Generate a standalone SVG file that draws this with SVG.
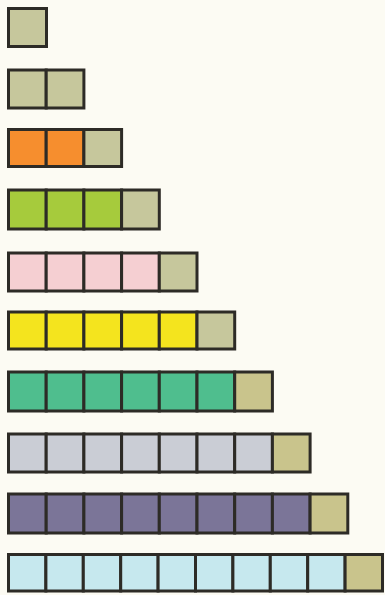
<svg xmlns="http://www.w3.org/2000/svg" width="385" height="595" viewBox="0 0 385 595">
<style>
.c{stroke:#2d2b26;stroke-width:3}
.k{fill:#c6c79c}
.k2{fill:#c9c48c}
.o{fill:#f68e2e}
.g{fill:#a6cb3c}
.p{fill:#f5cfd2}
.y{fill:#f4e41e}
.t{fill:#4fbe8e}
.s{fill:#cacdd5}
.v{fill:#7b7598}
.b{fill:#c6e8ee}
</style>
<rect width="385" height="595" fill="#fcfbf3"/>
<g id="row1">
<rect class="c k" x="8.5" y="8.5" width="38" height="38"/>
</g>
<g id="row2">
<rect class="c k" x="8.5" y="70" width="37.7" height="38"/>
<rect class="c k" x="46.2" y="70" width="37.7" height="38"/>
</g>
<g id="row3">
<rect class="c o" x="8.5" y="129.5" width="37.7" height="37"/>
<rect class="c o" x="46.2" y="129.5" width="37.7" height="37"/>
<rect class="c k" x="83.9" y="129.5" width="37.7" height="37"/>
</g>
<g id="row4">
<rect class="c g" x="8.5" y="190" width="37.7" height="39"/>
<rect class="c g" x="46.2" y="190" width="37.7" height="39"/>
<rect class="c g" x="83.9" y="190" width="37.7" height="39"/>
<rect class="c k" x="121.6" y="190" width="37.7" height="39"/>
</g>
<g id="row5">
<rect class="c p" x="8.5" y="253" width="37.7" height="38"/>
<rect class="c p" x="46.2" y="253" width="37.7" height="38"/>
<rect class="c p" x="83.9" y="253" width="37.7" height="38"/>
<rect class="c p" x="121.6" y="253" width="37.7" height="38"/>
<rect class="c k" x="159.3" y="253" width="37.7" height="38"/>
</g>
<g id="row6">
<rect class="c y" x="8.5" y="312" width="37.7" height="37"/>
<rect class="c y" x="46.2" y="312" width="37.7" height="37"/>
<rect class="c y" x="83.9" y="312" width="37.7" height="37"/>
<rect class="c y" x="121.6" y="312" width="37.7" height="37"/>
<rect class="c y" x="159.3" y="312" width="37.7" height="37"/>
<rect class="c k" x="197" y="312" width="37.7" height="37"/>
</g>
<g id="row7">
<rect class="c t" x="8.5" y="372" width="37.7" height="39"/>
<rect class="c t" x="46.2" y="372" width="37.7" height="39"/>
<rect class="c t" x="83.9" y="372" width="37.7" height="39"/>
<rect class="c t" x="121.6" y="372" width="37.7" height="39"/>
<rect class="c t" x="159.3" y="372" width="37.7" height="39"/>
<rect class="c t" x="197" y="372" width="37.7" height="39"/>
<rect class="c k2" x="234.7" y="372" width="37.7" height="39"/>
</g>
<g id="row8">
<rect class="c s" x="8.5" y="434" width="37.7" height="38"/>
<rect class="c s" x="46.2" y="434" width="37.7" height="38"/>
<rect class="c s" x="83.9" y="434" width="37.7" height="38"/>
<rect class="c s" x="121.6" y="434" width="37.7" height="38"/>
<rect class="c s" x="159.3" y="434" width="37.7" height="38"/>
<rect class="c s" x="197" y="434" width="37.7" height="38"/>
<rect class="c s" x="234.7" y="434" width="37.7" height="38"/>
<rect class="c k2" x="272.4" y="434" width="37.7" height="38"/>
</g>
<g id="row9">
<rect class="c v" x="8.5" y="494" width="37.7" height="39"/>
<rect class="c v" x="46.2" y="494" width="37.7" height="39"/>
<rect class="c v" x="83.9" y="494" width="37.7" height="39"/>
<rect class="c v" x="121.6" y="494" width="37.7" height="39"/>
<rect class="c v" x="159.3" y="494" width="37.7" height="39"/>
<rect class="c v" x="197" y="494" width="37.7" height="39"/>
<rect class="c v" x="234.7" y="494" width="37.7" height="39"/>
<rect class="c v" x="272.4" y="494" width="37.7" height="39"/>
<rect class="c k2" x="310.1" y="494" width="37.7" height="39"/>
</g>
<g id="row10">
<rect class="c b" x="8.5" y="554.5" width="37.4" height="36.5"/>
<rect class="c b" x="45.9" y="554.5" width="37.4" height="36.5"/>
<rect class="c b" x="83.3" y="554.5" width="37.4" height="36.5"/>
<rect class="c b" x="120.7" y="554.5" width="37.4" height="36.5"/>
<rect class="c b" x="158.1" y="554.5" width="37.4" height="36.5"/>
<rect class="c b" x="195.5" y="554.5" width="37.4" height="36.5"/>
<rect class="c b" x="232.9" y="554.5" width="37.4" height="36.5"/>
<rect class="c b" x="270.3" y="554.5" width="37.4" height="36.5"/>
<rect class="c b" x="307.7" y="554.5" width="37.4" height="36.5"/>
<rect class="c k2" x="345.1" y="554.5" width="37.4" height="36.5"/>
</g>
<g id="connectors"/>
</svg>
